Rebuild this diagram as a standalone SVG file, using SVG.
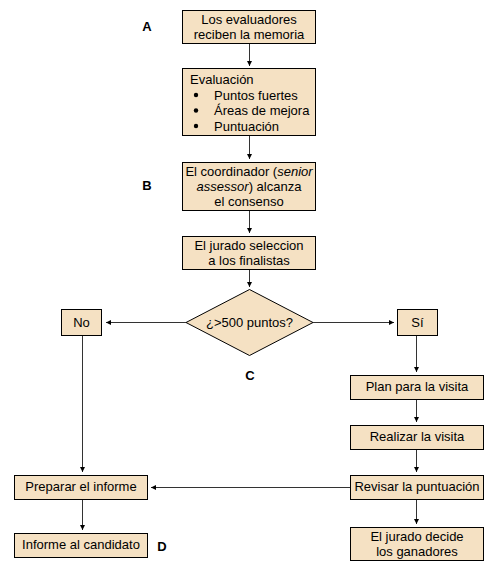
<svg xmlns="http://www.w3.org/2000/svg" width="500" height="578" viewBox="0 0 500 578">
<defs>
<marker id="ah" markerWidth="6" markerHeight="6" refX="5" refY="3" orient="auto" markerUnits="userSpaceOnUse">
<path d="M0,0.5 L5,3 L0,5.5 Z" fill="#000"/>
</marker>
<style>
.box{fill:#F5E1C3;stroke:#000;stroke-width:1}
.t{font-family:"Liberation Sans",Arial,sans-serif;font-size:13px;fill:#000}
.c{text-anchor:middle}
.lbl{font-family:"Liberation Sans",Arial,sans-serif;font-size:13px;font-weight:bold;fill:#000;text-anchor:middle}
.ln{stroke:#333;stroke-width:1;fill:none;marker-end:url(#ah)}
</style>
</defs>
<rect width="500" height="578" fill="#fff"/>
<g id="connectors">
<line class="ln" x1="249.5" y1="43" x2="249.5" y2="66"/>
<line class="ln" x1="249.5" y1="136" x2="249.5" y2="159"/>
<line class="ln" x1="249.5" y1="211" x2="249.5" y2="233"/>
<line class="ln" x1="249.5" y1="270" x2="249.5" y2="287"/>
<line class="ln" x1="186" y1="322.5" x2="106" y2="322.5"/>
<line class="ln" x1="313" y1="322.5" x2="394" y2="322.5"/>
<line class="ln" x1="82.5" y1="336" x2="82.5" y2="472"/>
<line class="ln" x1="416.5" y1="336" x2="416.5" y2="372"/>
<line class="ln" x1="416.5" y1="399" x2="416.5" y2="422"/>
<line class="ln" x1="416.5" y1="449" x2="416.5" y2="472"/>
<line class="ln" x1="416.5" y1="499" x2="416.5" y2="524"/>
<line class="ln" x1="82.5" y1="499" x2="82.5" y2="530"/>
<line class="ln" x1="350" y1="487.5" x2="151" y2="487.5"/>
</g>
<g id="labels">
<text class="lbl" x="147" y="31">A</text>
<text class="lbl" x="147" y="190">B</text>
<text class="lbl" x="250" y="380">C</text>
<text class="lbl" x="162" y="551">D</text>
</g>
<g id="n1">
<rect class="box" x="182.5" y="10.5" width="133" height="33"/>
<text class="t c" x="249" y="24">Los evaluadores</text>
<text class="t c" x="249" y="39">reciben la memoria</text>
</g>
<g id="n2">
<rect class="box" x="182.5" y="68.5" width="133" height="67"/>
<text class="t" x="190" y="84">Evaluación</text>
<circle cx="196" cy="95" r="2.2" fill="#000"/>
<text class="t" x="214" y="99.5">Puntos fuertes</text>
<circle cx="196" cy="110.5" r="2.2" fill="#000"/>
<text class="t" x="214" y="115">Áreas de mejora</text>
<circle cx="196" cy="126" r="2.2" fill="#000"/>
<text class="t" x="214" y="130.5">Puntuación</text>
</g>
<g id="n3">
<rect class="box" x="182.5" y="162.5" width="133" height="48"/>
<text class="t c" x="249" y="176">El coordinador (<tspan font-style="italic">senior</tspan></text>
<text class="t c" x="249" y="191"><tspan font-style="italic">assessor</tspan>) alcanza</text>
<text class="t c" x="249" y="205.5">el consenso</text>
</g>
<g id="n4">
<rect class="box" x="182.5" y="236.5" width="133" height="33"/>
<text class="t c" x="249" y="250">El jurado seleccion</text>
<text class="t c" x="249" y="265">a los finalistas</text>
</g>
<g id="n5">
<polygon class="box" points="249.5,289.5 313,322.5 249.5,355.5 186,322.5"/>
<text class="t c" x="249.5" y="327">¿&gt;500 puntos?</text>
</g>
<g id="n6">
<rect class="box" x="61.5" y="309.5" width="40" height="26"/>
<text class="t c" x="81.5" y="327">No</text>
</g>
<g id="n7">
<rect class="box" x="397.5" y="309.5" width="40" height="26"/>
<text class="t c" x="417.5" y="327">Sí</text>
</g>
<g id="n8">
<rect class="box" x="350.5" y="375.5" width="133" height="24"/>
<text class="t c" x="417" y="391">Plan para la visita</text>
</g>
<g id="n9">
<rect class="box" x="350.5" y="425.5" width="133" height="24"/>
<text class="t c" x="417" y="441">Realizar la visita</text>
</g>
<g id="n10">
<rect class="box" x="350.5" y="475.5" width="133" height="24"/>
<text class="t c" x="417" y="491">Revisar la puntuación</text>
</g>
<g id="n11">
<rect class="box" x="350.5" y="527.5" width="133" height="33"/>
<text class="t c" x="417" y="541">El jurado decide</text>
<text class="t c" x="417" y="556">los ganadores</text>
</g>
<g id="n12">
<rect class="box" x="14.5" y="475.5" width="133" height="24"/>
<text class="t c" x="81" y="491">Preparar el informe</text>
</g>
<g id="n13">
<rect class="box" x="14.5" y="533.5" width="133" height="24"/>
<text class="t c" x="81" y="549">Informe al candidato</text>
</g>
</svg>
